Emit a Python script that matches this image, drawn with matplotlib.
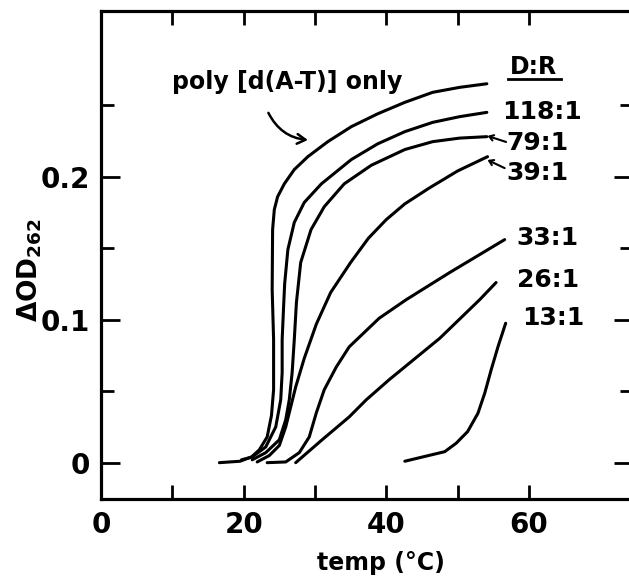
import numpy as np
import matplotlib
matplotlib.use("Agg")
import matplotlib.pyplot as plt

plt.rcParams['font.family'] = ['DejaVu Sans']
plt.rcParams['font.weight'] = 'bold'
plt.rcParams['mathtext.default'] = 'bf'

# melting curves: temp (C) vs delta OD262
poly_t = [16.6, 19.5, 21.1, 22.2, 23.3, 23.9, 24.2, 24.2, 24.0, 24.06, 24.3, 24.76,
          25.7, 27.1, 29.0, 31.8, 35.1, 38.8, 42.6, 46.5, 50.3, 54.1]
poly_od = [0.0, 0.001, 0.004, 0.009, 0.018, 0.033, 0.051, 0.086, 0.121, 0.163,
           0.177, 0.186, 0.195, 0.205, 0.214, 0.2245, 0.235, 0.244, 0.252, 0.259,
           0.2625, 0.265]

r118_t = [19.7, 21.2, 23.1, 24.5, 25.2, 25.4, 25.4, 25.6, 25.75, 26.2, 27.1, 28.5,
          30.9, 35.1, 38.8, 42.6, 46.5, 50.3, 54.1]
r118_od = [0.002, 0.004, 0.011, 0.025, 0.044, 0.063, 0.086, 0.109, 0.125, 0.149,
           0.168, 0.182, 0.195, 0.212, 0.223, 0.2315, 0.238, 0.242, 0.245]

r79_t = [21.2, 23.1, 25.0, 25.9, 26.4, 26.8, 27.1, 27.4, 28.0, 29.45, 31.3, 34.1,
         37.9, 42.6, 46.5, 50.3, 54.1]
r79_od = [0.002, 0.007, 0.016, 0.030, 0.044, 0.063, 0.086, 0.112, 0.140, 0.163,
          0.179, 0.195, 0.208, 0.2190, 0.2245, 0.2270, 0.228]

r39_t = [21.9, 23.6, 25.0, 25.9, 26.6, 27.3, 28.5, 30.2, 32.2, 35.0, 37.5, 40.0,
         42.6, 46.0, 50.0, 54.2]
r39_od = [0.0005, 0.005, 0.012, 0.025, 0.039, 0.053, 0.073, 0.097, 0.119, 0.140,
          0.157, 0.170, 0.181, 0.192, 0.204, 0.214]

r33_t = [23.3, 25.9, 27.8, 29.2, 30.2, 31.3, 33.0, 34.8, 39.0, 42.8, 48.9, 56.6]
r33_od = [0.0, 0.0005, 0.007, 0.018, 0.035, 0.051, 0.067, 0.081, 0.101, 0.114,
          0.133, 0.156]

r26_t = [27.3, 31.0, 34.8, 37.2, 40.4, 47.5, 53.1, 55.4]
r26_od = [0.0, 0.016, 0.032, 0.044, 0.058, 0.087, 0.114, 0.126]

r13_t = [42.6, 45.1, 48.2, 49.8, 51.4, 52.85, 53.8, 54.7, 55.66, 56.74]
r13_od = [0.001, 0.004, 0.0077, 0.0136, 0.0217, 0.0345, 0.0485, 0.0648, 0.081,
          0.0975]

curves = [(poly_t, poly_od), (r118_t, r118_od), (r79_t, r79_od), (r39_t, r39_od),
          (r33_t, r33_od), (r26_t, r26_od), (r13_t, r13_od)]

x_ticks = [0, 10, 20, 30, 40, 50, 60]
x_ticklabels = ['0', '', '20', '', '40', '', '60']
y_major = [0, 0.1, 0.2]
y_labels = ['0', '0.1', '0.2']
y_minor = [0.05, 0.15, 0.25]

fig = plt.figure(figsize=(6.29, 5.78), dpi=100)
ax = fig.add_axes([0.1606, 0.1367, 0.8458, 0.8443])

for t, od in curves:
    ax.plot(t, od, color='black', lw=2.2, solid_capstyle='round',
            solid_joinstyle='round')

ax.set_xlim(0, 74.6)
ax.set_ylim(-0.0254, 0.3159)
ax.set_xticks(x_ticks)
ax.set_xticklabels(x_ticklabels)
ax.set_yticks(y_major)
ax.set_yticklabels(y_labels)
ax.set_yticks(y_minor, minor=True)

for sp in ax.spines.values():
    sp.set_linewidth(2.3)

ax.tick_params(axis='x', which='both', direction='in', top=True, bottom=True,
               length=10, width=2, labelsize=20, pad=9)
ax.tick_params(axis='y', which='major', direction='in', left=True, right=True,
               length=14, width=2, labelsize=20, pad=8)
ax.tick_params(axis='y', which='minor', direction='in', left=True, right=True,
               length=9.5, width=2)

# labels
fig.text(30 / 629, 1 - 270 / 578, r'$\Delta$OD$_{262}$', rotation=90,
         ha='center', va='center', fontsize=19)
fig.text(381 / 629, 1 - 563 / 578, 'temp (°C)', ha='center', va='center',
         fontsize=17)

ax.text(10.0, 0.266, 'poly [d(A-T)] only', ha='left', va='center', fontsize=17)
ax.annotate('', xy=(29.4, 0.2255), xytext=(23.3, 0.2464),
            arrowprops=dict(arrowstyle='->,head_length=0.6,head_width=0.35',
                            lw=1.8, color='black',
                            connectionstyle='arc3,rad=0.3'))

ax.text(60.7, 0.277, 'D:R', ha='center', va='center', fontsize=17)
ax.plot([57.0, 64.5], [0.268, 0.268], color='black', lw=2, clip_on=False)

ax.text(56.3, 0.245, '118:1', ha='left', va='center', fontsize=18)
ax.text(56.9, 0.2236, '79:1', ha='left', va='center', fontsize=18)
ax.text(56.9, 0.2026, '39:1', ha='left', va='center', fontsize=18)
ax.text(58.3, 0.157, '33:1', ha='left', va='center', fontsize=18)
ax.text(58.3, 0.128, '26:1', ha='left', va='center', fontsize=18)
ax.text(59.0, 0.101, '13:1', ha='left', va='center', fontsize=18)

small_arrow = dict(arrowstyle='->,head_length=0.3,head_width=0.2', lw=1.5,
                   color='black', shrinkA=0, shrinkB=0)
ax.annotate('', xy=(54.2, 0.2285), xytext=(56.8, 0.2243), arrowprops=small_arrow)
ax.annotate('', xy=(54.2, 0.2117), xytext=(56.6, 0.2060), arrowprops=small_arrow)

fig.savefig('out.png', dpi=100)
